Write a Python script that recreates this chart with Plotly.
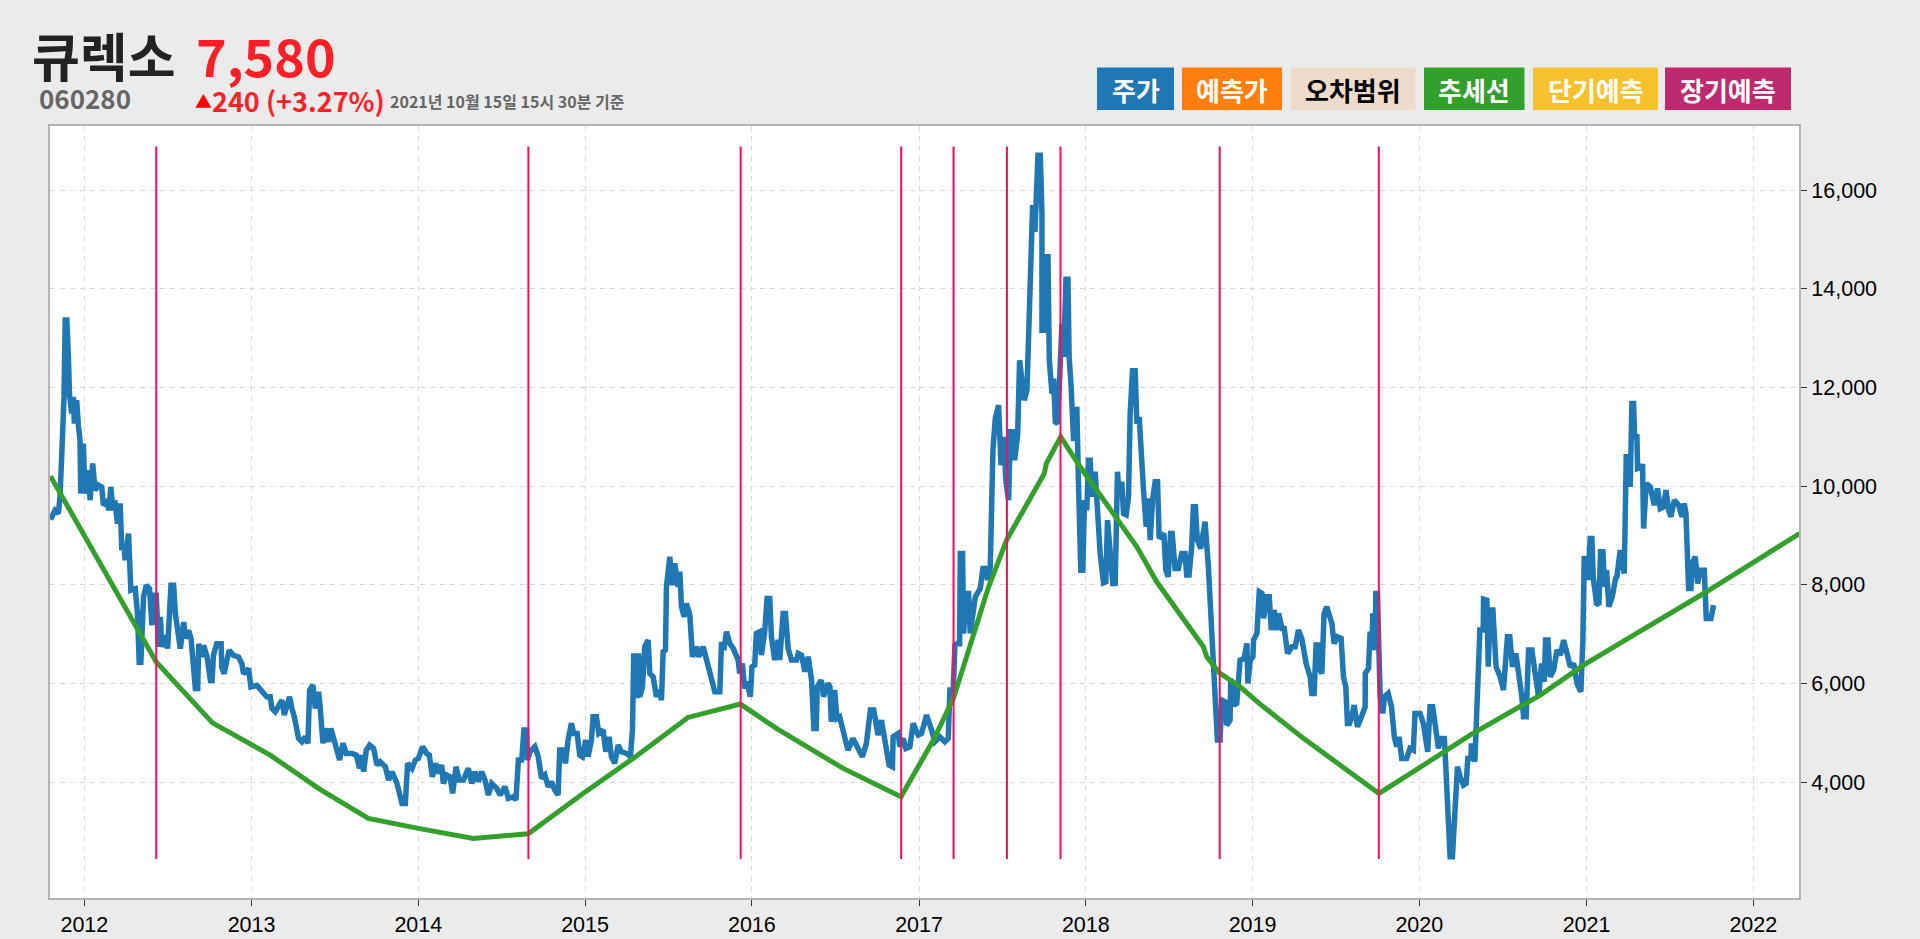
import pandas as pd
import plotly.graph_objects as go

# Price, decimal year / won, one pair of lists per stretch
t_2012 = [2011.797, 2011.824, 2011.844, 2011.854, 2011.864, 2011.871, 2011.878, 2011.885, 2011.895, 2011.905,
          2011.911, 2011.924, 2011.934, 2011.94, 2011.954, 2011.964, 2011.974, 2011.978, 2011.994, 2012.004,
          2012.024, 2012.034, 2012.05, 2012.064, 2012.084, 2012.104, 2012.114, 2012.134, 2012.148, 2012.158,
          2012.172, 2012.182, 2012.198, 2012.214, 2012.224, 2012.234, 2012.244, 2012.264, 2012.274, 2012.278,
          2012.304, 2012.318, 2012.328, 2012.338, 2012.354, 2012.37, 2012.39, 2012.404, 2012.414, 2012.43,
          2012.444, 2012.454, 2012.464, 2012.484, 2012.498, 2012.518, 2012.534, 2012.544, 2012.574, 2012.594,
          2012.604, 2012.624, 2012.638, 2012.664, 2012.678, 2012.684, 2012.7, 2012.714, 2012.734, 2012.754,
          2012.764, 2012.772, 2012.792, 2012.818, 2012.822, 2012.836, 2012.852, 2012.866, 2012.892, 2012.922,
          2012.942, 2012.952, 2012.982, 2012.996]
v_2012 = [9323, 9510, 9445, 9780, 10595, 11137, 11810, 13370, 13370, 12560,
          11850, 11475, 11810, 11270, 11745, 11240, 10930, 9850, 10865, 9850,
          10325, 9715, 10460, 9920, 10020, 9985, 9615, 9680, 9510, 9985,
          9510, 9715, 9240, 9650, 8700, 8835, 8500, 9040, 8500, 7890,
          7920, 7415, 6430, 6430, 7755, 7990, 7920, 7180, 7790, 7790,
          6740, 7350, 6740, 6975, 6705, 7990, 7990, 7415, 6705, 7245,
          6910, 7075, 6910, 5895, 5895, 6805, 6535, 6770, 6535, 6060,
          6060, 6570, 6805, 6805, 6330, 6195, 6465, 6670, 6570, 6535,
          6400, 6195, 6300, 5930]

t_2013 = [2013.032, 2013.062, 2013.092, 2013.112, 2013.122, 2013.142, 2013.162, 2013.182, 2013.196, 2013.212,
          2013.228, 2013.242, 2013.256, 2013.282, 2013.302, 2013.322, 2013.338, 2013.348, 2013.368, 2013.382,
          2013.402, 2013.412, 2013.428, 2013.442, 2013.462, 2013.476, 2013.502, 2013.528, 2013.548, 2013.568,
          2013.602, 2013.628, 2013.648, 2013.658, 2013.672, 2013.688, 2013.708, 2013.732, 2013.752, 2013.772,
          2013.802, 2013.822, 2013.842, 2013.872, 2013.902, 2013.922, 2013.936, 2013.962, 2013.982]
v_2013 = [5960, 5825, 5725, 5730, 5493, 5425, 5527, 5660, 5358, 5594,
          5730, 5493, 5324, 4885, 4817, 4918, 4783, 5865, 5966, 5493,
          5830, 5493, 4783, 5087, 4817, 5087, 4716, 4445, 4783, 4580,
          4580, 4546, 4276, 4546, 4209, 4648, 4749, 4682, 4344, 4411,
          4310, 4040, 4209, 3972, 3566, 3566, 4378, 4276, 4445]

t_2014 = [2014.0, 2014.026, 2014.05, 2014.066, 2014.084, 2014.104, 2014.12, 2014.14, 2014.15, 2014.17,
          2014.19, 2014.206, 2014.226, 2014.246, 2014.27, 2014.3, 2014.32, 2014.34, 2014.36, 2014.38,
          2014.4, 2014.42, 2014.44, 2014.47, 2014.49, 2014.52, 2014.54, 2014.57, 2014.585, 2014.6,
          2014.62, 2014.633, 2014.649, 2014.655, 2014.669, 2014.699, 2014.719, 2014.739, 2014.759, 2014.779,
          2014.798, 2014.818, 2014.838, 2014.848, 2014.868, 2014.882, 2014.898, 2014.918, 2014.932, 2014.952,
          2014.968, 2014.984]
v_2014 = [4479, 4716, 4580, 4546, 4107, 4378, 4175, 4344, 3972, 4141,
          4107, 3769, 4310, 4040, 4040, 4276, 3972, 4209, 4006, 4209,
          4040, 3735, 3972, 3871, 3735, 3904, 3668, 3702, 3634, 4445,
          4445, 5054, 5054, 4445, 4614, 4716, 4513, 4073, 4141, 3904,
          4006, 3837, 3735, 4648, 4648, 4378, 4851, 5189, 4986, 4986,
          4547, 4513]

t_2015 = [2015.004, 2015.018, 2015.038, 2015.048, 2015.068, 2015.082, 2015.108, 2015.124, 2015.144, 2015.158,
          2015.178, 2015.198, 2015.218, 2015.248, 2015.272, 2015.284, 2015.292, 2015.298, 2015.304, 2015.312,
          2015.32, 2015.328, 2015.344, 2015.358, 2015.378, 2015.388, 2015.408, 2015.428, 2015.444, 2015.458,
          2015.468, 2015.482, 2015.488, 2015.508, 2015.522, 2015.538, 2015.558, 2015.568, 2015.578, 2015.594,
          2015.608, 2015.628, 2015.644, 2015.668, 2015.682, 2015.708, 2015.732, 2015.758, 2015.778, 2015.808,
          2015.818, 2015.832, 2015.848, 2015.868, 2015.888, 2015.918, 2015.927, 2015.943, 2015.957, 2015.971,
          2015.991]
v_2015 = [4851, 4513, 4851, 5324, 5324, 4986, 5054, 4614, 4918, 4513,
          4378, 4749, 4614, 4580, 4513, 5054, 6608, 5730, 6608, 5700,
          6608, 5730, 5932, 6744, 6879, 6203, 6135, 5730, 5865, 5662,
          6642, 6676, 7960, 8569, 7994, 8434, 7960, 8265, 7555, 7352,
          7622, 7386, 6540, 6744, 6540, 6744, 6405, 6135, 5831, 5831,
          6845, 6676, 7048, 6811, 6710, 6473, 6203, 6405, 5899, 6034,
          5730]

t_2016 = [2016.001, 2016.017, 2016.027, 2016.047, 2016.057, 2016.077, 2016.091, 2016.107, 2016.117, 2016.137,
          2016.157, 2016.167, 2016.187, 2016.201, 2016.217, 2016.237, 2016.267, 2016.277, 2016.297, 2016.317,
          2016.337, 2016.357, 2016.371, 2016.385, 2016.391, 2016.415, 2016.429, 2016.455, 2016.467, 2016.475,
          2016.495, 2016.509, 2016.525, 2016.545, 2016.575, 2016.605, 2016.635, 2016.661, 2016.685, 2016.709,
          2016.729, 2016.755, 2016.775, 2016.795, 2016.821, 2016.841, 2016.845, 2016.875, 2016.885, 2016.905,
          2016.921, 2016.945, 2016.965, 2016.985, 2016.995]
v_2016 = [6338, 6372, 7014, 7048, 6575, 7048, 7724, 7724, 6946, 6473,
          6879, 6473, 7420, 7420, 6710, 6473, 6473, 6608, 6575, 6237,
          6541, 6068, 5087, 5087, 5932, 6068, 5730, 6000, 5932, 5223,
          5865, 5290, 5324, 5054, 4648, 4885, 4648, 4513, 4783, 5459,
          5459, 4952, 5256, 4851, 4344, 4310, 4918, 4986, 4716, 4885,
          4682, 4716, 5189, 5020, 4952]

t_2017 = [2017.015, 2017.045, 2017.075, 2017.095, 2017.125, 2017.155, 2017.175, 2017.185, 2017.205, 2017.215,
          2017.229, 2017.243, 2017.247, 2017.261, 2017.267, 2017.283, 2017.297, 2017.307, 2017.337, 2017.367,
          2017.383, 2017.401, 2017.411, 2017.427, 2017.443, 2017.457, 2017.477, 2017.491, 2017.507, 2017.521,
          2017.537, 2017.547, 2017.56, 2017.573, 2017.591, 2017.603, 2017.617, 2017.631, 2017.647, 2017.657,
          2017.667, 2017.681, 2017.695, 2017.713, 2017.727, 2017.737, 2017.737, 2017.751, 2017.761, 2017.773,
          2017.781, 2017.797, 2017.807, 2017.817, 2017.831, 2017.843, 2017.857, 2017.867, 2017.881, 2017.893,
          2017.9, 2017.912, 2017.926, 2017.936, 2017.946, 2017.956, 2017.97, 2017.982, 2017.992]
v_2017 = [4986, 5358, 5054, 4817, 4918, 4817, 4885, 5865, 5865, 6777,
          6811, 6809, 8634, 8634, 7012, 7823, 7823, 7012, 7756, 7925,
          8330, 8330, 8094, 8364, 10729, 11371, 11642, 10425, 11000, 10087,
          9715, 11101, 11101, 10526, 11033, 12554, 12149, 11743, 11946, 12960,
          14447, 15698, 15157, 16712, 16712, 15529, 13163, 13163, 14650, 14650,
          12554, 11878, 12182, 11304, 11270, 12588, 13298, 12622, 14197, 14197,
          12622, 12014, 10966, 10966, 11608, 10053, 8297, 8297, 9717]

t_2018 = [2018.006, 2018.016, 2018.026, 2018.036, 2018.056, 2018.066, 2018.086, 2018.106, 2018.12, 2018.13,
          2018.142, 2018.15, 2018.162, 2018.176, 2018.19, 2018.2, 2018.216, 2018.226, 2018.242, 2018.256,
          2018.266, 2018.28, 2018.296, 2018.306, 2018.32, 2018.33, 2018.336, 2018.346, 2018.362, 2018.376,
          2018.386, 2018.4, 2018.416, 2018.43, 2018.44, 2018.468, 2018.48, 2018.494, 2018.508, 2018.518,
          2018.535, 2018.555, 2018.575, 2018.595, 2018.605, 2018.619, 2018.635, 2018.645, 2018.657, 2018.669,
          2018.689, 2018.715, 2018.735, 2018.755, 2018.765, 2018.775, 2018.789, 2018.805, 2018.815, 2018.835,
          2018.845, 2018.865, 2018.869, 2018.885, 2018.889, 2018.905, 2018.925, 2018.949, 2018.966, 2018.972,
          2018.986]
v_2018 = [9514, 10528, 10528, 9785, 10292, 9785, 8635, 8040, 8060, 9311,
          8770, 8770, 8027, 8027, 10292, 9785, 10089, 9447, 9420, 9785,
          11473, 12338, 12338, 11270, 11405, 10830, 10290, 9920, 9176, 9751,
          8906, 9717, 10089, 10089, 8940, 9041, 8297, 8162, 9041, 9041,
          8331, 8331, 8635, 8635, 8196, 8196, 8770, 9582, 9582, 8906,
          8737, 9278, 8365, 7013, 6743, 5663, 4850, 4850, 5661, 5627,
          5154, 5255, 6068, 6000, 5560, 5595, 6472, 6506, 6811, 6000,
          6473]

t_2019 = [2019.002, 2019.006, 2019.026, 2019.04, 2019.056, 2019.066, 2019.086, 2019.1, 2019.112, 2019.13,
          2019.142, 2019.156, 2019.176, 2019.19, 2019.21, 2019.236, 2019.256, 2019.275, 2019.295, 2019.321,
          2019.345, 2019.355, 2019.369, 2019.381, 2019.395, 2019.405, 2019.415, 2019.429, 2019.445, 2019.461,
          2019.475, 2019.489, 2019.509, 2019.531, 2019.545, 2019.559, 2019.569, 2019.581, 2019.595, 2019.609,
          2019.629, 2019.649, 2019.675, 2019.676, 2019.695, 2019.705, 2019.715, 2019.721, 2019.735, 2019.739,
          2019.749, 2019.755, 2019.765, 2019.781, 2019.791, 2019.813, 2019.833, 2019.85, 2019.864, 2019.878,
          2019.894, 2019.924, 2019.944, 2019.964, 2019.974]
v_2019 = [6541, 6879, 7014, 7859, 7825, 7318, 7758, 7758, 7082, 7487,
          7082, 7420, 7115, 7115, 6608, 6744, 6744, 7082, 6913, 6405,
          6135, 5797, 5797, 6777, 6777, 6270, 6200, 7420, 7555, 7352,
          7220, 6811, 6946, 6912, 6135, 5932, 5189, 5189, 5324, 5560,
          5121, 5290, 5527, 6203, 6304, 7048, 6676, 7420, 6676, 7825,
          7825, 7014, 5730, 5392, 5730, 5797, 5527, 4918, 4716, 4918,
          4479, 4479, 4682, 4648, 5392]

t_2020 = [2020.004, 2020.024, 2020.05, 2020.064, 2020.08, 2020.1, 2020.114, 2020.128, 2020.15, 2020.164,
          2020.184, 2020.198, 2020.214, 2020.228, 2020.244, 2020.264, 2020.28, 2020.29, 2020.308, 2020.312,
          2020.332, 2020.346, 2020.362, 2020.382, 2020.384, 2020.404, 2020.412, 2020.424, 2020.44, 2020.459,
          2020.483, 2020.503, 2020.513, 2020.527, 2020.541, 2020.557, 2020.577, 2020.597, 2020.613, 2020.623,
          2020.639, 2020.653, 2020.673, 2020.693, 2020.713, 2020.731, 2020.747, 2020.755, 2020.769, 2020.783,
          2020.803, 2020.823, 2020.843, 2020.863, 2020.883, 2020.903, 2020.923, 2020.943, 2020.966, 2020.978,
          2020.986]
v_2020 = [5392, 5189, 4614, 5527, 5527, 4986, 4682, 4885, 4885, 3904,
          2485, 2485, 3702, 4310, 4107, 3938, 3972, 4479, 4479, 4783,
          4411, 5527, 7082, 7082, 7710, 7690, 6338, 7487, 7487, 6338,
          6135, 5865, 6405, 6946, 6946, 6338, 6608, 6203, 5730, 5324,
          5324, 6676, 6676, 6203, 5730, 6405, 6034, 6879, 6879, 6135,
          6270, 6676, 6575, 6879, 6608, 6338, 6405, 6000, 5831, 6879,
          8535]

t_2021 = [2020.998, 2021.008, 2021.022, 2021.032, 2021.04, 2021.06, 2021.074, 2021.084, 2021.098, 2021.108,
          2021.12, 2021.134, 2021.154, 2021.174, 2021.182, 2021.202, 2021.226, 2021.238, 2021.252, 2021.262,
          2021.272, 2021.282, 2021.288, 2021.302, 2021.306, 2021.332, 2021.336, 2021.342, 2021.358, 2021.382,
          2021.406, 2021.426, 2021.442, 2021.462, 2021.476, 2021.492, 2021.506, 2021.526, 2021.552, 2021.572,
          2021.586, 2021.596, 2021.612, 2021.626, 2021.632, 2021.652, 2021.666, 2021.682, 2021.706, 2021.718,
          2021.746, 2021.762]
v_2021 = [8535, 8096, 8941, 8941, 8163, 7622, 7590, 8670, 8670, 7960,
          8298, 7555, 7758, 8129, 8161, 8702, 8229, 10595, 10595, 9986,
          11676, 11676, 11000, 11000, 10358, 10392, 10450, 9141, 10054, 9986,
          9615, 9953, 9547, 9580, 9919, 9513, 9378, 9716, 9615, 9378,
          9648, 9446, 7925, 7925, 8432, 8567, 8026, 8296, 8296, 7316,
          7316, 7587]

price_t = t_2012 + t_2013 + t_2014 + t_2015 + t_2016 + t_2017 + t_2018 + t_2019 + t_2020 + t_2021
price_v = v_2012 + v_2013 + v_2014 + v_2015 + v_2016 + v_2017 + v_2018 + v_2019 + v_2020 + v_2021

# Trend line
trend_t = [2011.797, 2012.084, 2012.43, 2012.766, 2013.112, 2013.401, 2013.70, 2014.0, 2014.33, 2014.659,
           2014.988, 2015.288, 2015.617, 2015.931, 2016.147, 2016.546, 2016.892, 2017.086, 2017.206, 2017.337,
           2017.417, 2017.527, 2017.751, 2017.763, 2017.849, 2017.966, 2018.106, 2018.306, 2018.425, 2018.705,
           2018.725, 2018.801, 2018.925, 2019.045, 2019.305, 2019.758, 2019.964, 2020.303, 2020.723, 2020.982,
           2021.282, 2021.702, 2022.277]
trend_v = [10203, 8504, 6433, 5200, 4546, 3870, 3262, 3059, 2857, 2950,
           3769, 4479, 5310, 5581, 5087, 4276, 3702, 4851, 5696, 7100,
           7958, 8920, 10256, 10459, 11000, 10393, 9717, 8770, 8060, 6743,
           6540, 6215, 5932, 5580, 4885, 3769, 4209, 4952, 5763, 6370,
           6978, 7823, 9040]

# Changepoints, vertical red lines
change_t = [2012.43, 2014.66, 2015.933, 2016.893, 2017.207, 2017.527, 2017.848, 2018.803, 2019.757]
change_low = 2440
change_high = 16890

year_ticks = [2012, 2013, 2014, 2015, 2016, 2017, 2018, 2019, 2020, 2021, 2022]
price_ticks = [4000, 6000, 8000, 10000, 12000, 14000, 16000]

legend_labels = ['주가', '예측가', '오차범위', '추세선', '단기예측', '장기예측']
legend_colors = ['#1f77b4', '#ff7f0e', '#eedbca', '#33a02c', '#f7c12e', '#bf2a6e']
legend_text = ['white', 'white', 'black', 'white', 'white', 'white']
legend_left = [1097, 1182, 1291, 1424, 1533, 1665]
legend_right = [1174, 1282, 1415.5, 1524.5, 1658, 1791]

KR = 'Noto Sans CJK KR'
GRID = '#d8d8d8'
AXIS = '#b4b4b4'

# plot area in page pixels
LEFT, RIGHT, TOP, BOTTOM = 50, 1799, 126, 898


def to_date(y):
    year = int(y)
    start = pd.Timestamp(year=year, month=1, day=1)
    days = (pd.Timestamp(year=year + 1, month=1, day=1) - start).days
    return start + pd.Timedelta(days=(y - year) * days)


def px(x):
    return (x - LEFT) / (RIGHT - LEFT)


def py(y):
    return (BOTTOM - y) / (BOTTOM - TOP)


fig = go.Figure()

fig.add_trace(go.Scatter(x=[to_date(t) for t in price_t], y=price_v, mode='lines',
                         line=dict(color='#1f77b4', width=5.5), name='주가'))
fig.add_trace(go.Scatter(x=[to_date(t) for t in trend_t], y=trend_v, mode='lines',
                         line=dict(color='#33a02c', width=5), name='추세선'))

for t in change_t:
    d = to_date(t)
    fig.add_trace(go.Scatter(x=[d, d], y=[change_low, change_high], mode='lines',
                             line=dict(color='#ff0a5c', width=2), name='변곡점'))

# Header texts
header = [
    ('큐렉소', 30, 55, 52, '#222222'),
    ('060280', 37, 97, 26, '#666666'),
    ('7,580', 194, 55, 52, '#ff1f26'),
    ('▲', 193, 100, 17, '#ff0000'),
    ('240 (+3.27%)', 210, 100, 27, '#ff1f26'),
    ('2021년 10월 15일 15시 30분 기준', 388, 101, 16, '#666666'),
]
for text, x, y, size, color in header:
    fig.add_annotation(x=px(x), y=py(y), xref='paper', yref='paper', text=f'<b>{text}</b>', showarrow=False,
                       xanchor='left', yanchor='middle', font=dict(family=KR, size=size, color=color))

# Legend buttons
for label, color, tc, x0, x1 in zip(legend_labels, legend_colors, legend_text, legend_left, legend_right):
    fig.add_shape(type='rect', xref='paper', yref='paper', x0=px(x0), x1=px(x1), y0=py(110), y1=py(67.5),
                  fillcolor=color, line=dict(width=0))
    fig.add_annotation(x=px((x0 + x1) / 2), y=py(89), xref='paper', yref='paper', text=f'<b>{label}</b>',
                       showarrow=False, xanchor='center', yanchor='middle',
                       font=dict(family=KR, size=26, color=tc))

fig.update_layout(width=1920, height=939, autosize=False,
                  margin=dict(l=LEFT, r=1920 - RIGHT, t=TOP, b=939 - BOTTOM, pad=0, autoexpand=False),
                  paper_bgcolor='#ebebeb', plot_bgcolor='white', showlegend=False,
                  font=dict(family='Liberation Sans', size=21.5, color='black'))

fig.update_xaxes(range=[to_date(2011.794), to_date(2022.274)], type='date', automargin=False,
                 tickvals=[to_date(y) for y in year_ticks], ticktext=[str(y) for y in year_ticks],
                 ticks='outside', ticklen=6, tickcolor='#333333', tickwidth=1,
                 showgrid=True, gridcolor=GRID, gridwidth=1, griddash='5px,5px', zeroline=False,
                 showline=True, linecolor=AXIS, linewidth=2, mirror=True)
fig.update_yaxes(range=[1648, 17304], side='right', automargin=False, tickvals=price_ticks, tickformat=',',
                 ticks='outside', ticklen=6, tickcolor='#333333', tickwidth=1,
                 showgrid=True, gridcolor=GRID, gridwidth=1, griddash='5px,5px', zeroline=False,
                 showline=True, linecolor=AXIS, linewidth=2, mirror=True)

fig.write_html("out.html", config=dict(displayModeBar=False),
               post_script="document.body.style.margin='0';document.body.style.overflow='hidden';")
